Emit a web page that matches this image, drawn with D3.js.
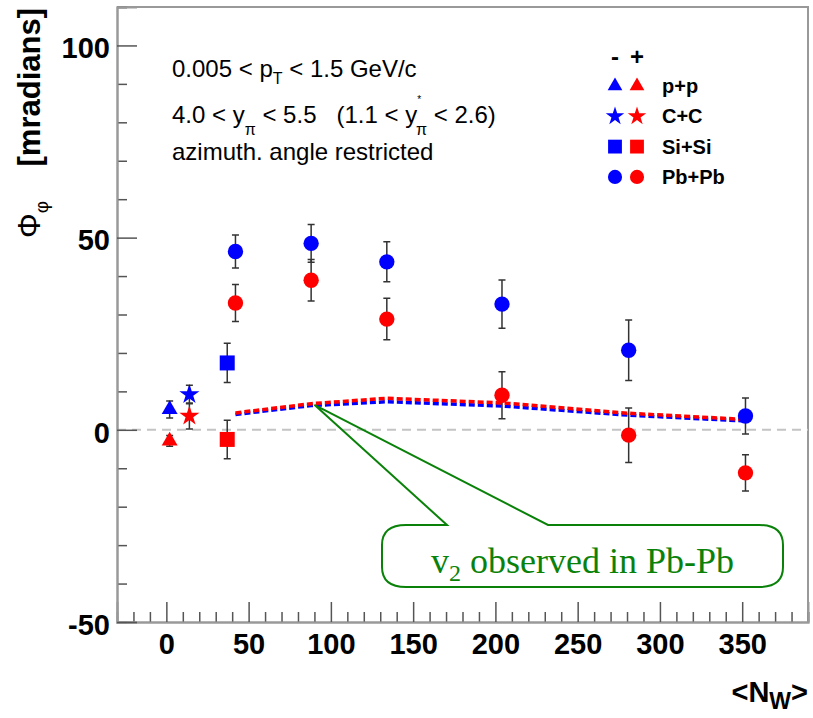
<!DOCTYPE html>
<html>
<head>
<meta charset="utf-8">
<script src="https://cdn.jsdelivr.net/npm/d3@7"></script>
<style>
  body { margin: 0; background: #fff; }
  svg { display: block; font-family: "Liberation Sans", Arial, sans-serif; }
</style>
</head>
<body>
<svg id="plot" width="813" height="718"></svg>
<script>
// systems in the legend
let systems = ["p+p", "C+C", "Si+Si", "Pb+Pb"]

// <N_W> per system
let ppNw = [2]
let ccNw = [14]
let sisiNw = [37]
let pbpbNw = [42, 88, 134, 204, 281, 352]

// Phi_phi for negative (blue) charges, mrad
let ppNeg = [5.3]
let ccNeg = [9.2]
let sisiNeg = [17.4]
let pbpbNeg = [46.4, 48.5, 43.7, 32.7, 20.7, 3.6]
let ppNegErr = [2.2]
let ccNegErr = [2.4]
let sisiNegErr = [5.1]
let pbpbNegErr = [4.3, 4.9, 5.2, 6.3, 7.9, 4.7]

// Phi_phi for positive (red) charges
let ppPos = [-2.9]
let ccPos = [3.6]
let sisiPos = [-2.5]
let pbpbPos = [33.0, 38.9, 28.8, 9.0, -1.4, -11.2]
let ppPosErr = [1.4]
let ccPosErr = [3.4]
let sisiPosErr = [5.0]
let pbpbPosErr = [4.8, 5.4, 5.4, 6.1, 7.1, 4.7]

// v2 contribution observed in Pb+Pb
let v2Neg = [4.0, 6.3, 7.3, 6.2, 3.8, 2.3]
let v2Pos = [4.4, 6.8, 8.2, 7.0, 4.3, 2.7]

let xMajor = [0, 50, 100, 150, 200, 250, 300, 350]
let yMajor = [-50, 0, 50, 100]

let axis = d3.select("#plot")

let xScale = d3.scaleLinear().domain([-30, 390]).range([117, 808])
let yScale = d3.scaleLinear().domain([-50, 110]).range([622, 7])

let blue = "#0000ff", red = "#ff0000"

// frame
axis.append("path")
  .attr("d", `M${xScale(-30)},${yScale(110)}H${xScale(390)}V${yScale(-50)}`)
  .attr("fill", "none").attr("stroke", "#999").attr("stroke-width", 2)

// zero line
axis.append("line")
  .attr("x1", xScale(-30)).attr("x2", xScale(390))
  .attr("y1", yScale(0)).attr("y2", yScale(0))
  .attr("stroke", "#c4c4c4").attr("stroke-width", 2).attr("stroke-dasharray", "9,6")

// x axis
let xMinor = d3.range(-20, 391, 10).filter(d => d % 50 != 0)
axis.append("g").attr("class", "axis")
  .attr("transform", `translate(0,${yScale(-50)})`)
  .call(d3.axisBottom(xScale).tickValues(xMinor).tickSize(-10).tickFormat(""))
axis.append("g").attr("class", "axis")
  .attr("transform", `translate(0,${yScale(-50)})`)
  .call(d3.axisBottom(xScale).tickValues(xMajor).tickSize(-20).tickPadding(11).tickFormat(d => String(d)))

// y axis
let yMinor = d3.range(-40, 111, 10).filter(d => d % 50 != 0)
axis.append("g").attr("class", "axis")
  .attr("transform", `translate(${xScale(-30)},0)`)
  .call(d3.axisLeft(yScale).tickValues(yMinor).tickSize(-10).tickFormat(""))
axis.append("g").attr("class", "axis")
  .attr("transform", `translate(${xScale(-30)},0)`)
  .call(d3.axisLeft(yScale).tickValues(yMajor).tickSize(-20).tickPadding(7).tickFormat(d => String(d)))

axis.selectAll(".axis .domain").attr("stroke", "#999").attr("stroke-width", 2)
axis.selectAll(".axis .tick line").attr("stroke", "#555").attr("stroke-width", 1.5)
axis.selectAll(".axis text")
  .attr("font-family", "Liberation Sans, Arial, sans-serif")
  .attr("font-size", 29).attr("font-weight", "bold").attr("fill", "#000")
axis.selectAll(".axis text").filter(function () { return this.getAttribute("dy") == "0.32em" })
  .attr("dy", "0.42em")

// axis titles
let yTitle = axis.append("text")
  .attr("transform", `translate(40,${yScale(110) + 1}) rotate(-90)`)
  .attr("text-anchor", "end").attr("font-weight", "bold").attr("font-size", 31)
yTitle.append("tspan").attr("font-weight", "normal").text("Φ")
yTitle.append("tspan").attr("font-weight", "normal").attr("font-size", 19).attr("dy", 8).text("φ")
yTitle.append("tspan").attr("dy", -8).text("\u00a0\u00a0\u00a0\u00a0[mradians]")

let xTitle = axis.append("text")
  .attr("x", 808).attr("y", 702)
  .attr("text-anchor", "end").attr("font-weight", "bold").attr("font-size", 29)
xTitle.append("tspan").text("<N")
xTitle.append("tspan").attr("font-size", 23).attr("dy", 7).text("W")
xTitle.append("tspan").attr("dy", -7).text(">")

// cut description
let info = axis.append("g").attr("font-size", 24).attr("fill", "#000")
let l1 = info.append("text").attr("x", 172).attr("y", 77)
l1.append("tspan").text("0.005 < p")
l1.append("tspan").attr("font-size", 16).attr("dy", 7).text("T")
l1.append("tspan").attr("dy", -7).text(" < 1.5 GeV/c")
let l2 = info.append("text").attr("x", 172).attr("y", 123)
l2.append("tspan").text("4.0 < y")
l2.append("tspan").attr("font-size", 16).attr("dy", 12).text("π")
l2.append("tspan").attr("dy", -12).text(" < 5.5\u00a0\u00a0\u00a0(1.1 < y")
l2.append("tspan").attr("font-size", 10).attr("dy", -20).text("*")
l2.append("tspan").attr("font-size", 16).attr("dx", -5).attr("dy", 32).text("π")
l2.append("tspan").attr("dy", -12).text(" < 2.6)")
info.append("text").attr("x", 172).attr("y", 160).text("azimuth. angle restricted")

// markers
let symbols = [d3.symbolTriangle, d3.symbolStar, d3.symbolSquare, d3.symbolCircle]
let symSize = [110, 125, 225, 185]

let series = [
  { nw: ppNw, neg: ppNeg, negErr: ppNegErr, pos: ppPos, posErr: ppPosErr },
  { nw: ccNw, neg: ccNeg, negErr: ccNegErr, pos: ccPos, posErr: ccPosErr },
  { nw: sisiNw, neg: sisiNeg, negErr: sisiNegErr, pos: sisiPos, posErr: sisiPosErr },
  { nw: pbpbNw, neg: pbpbNeg, negErr: pbpbNegErr, pos: pbpbPos, posErr: pbpbPosErr }
]

function draw_points(X, Y, E, color, sym, size) {
  let g = axis.append("g")
  X.forEach(function (d, i) {
    let cx = xScale(d), y1 = yScale(Y[i] + E[i]), y2 = yScale(Y[i] - E[i])
    g.append("path")
      .attr("d", `M${cx},${y1}V${y2}M${cx - 3.5},${y1}H${cx + 3.5}M${cx - 3.5},${y2}H${cx + 3.5}`)
      .attr("stroke", "#333").attr("stroke-width", 1.5).attr("fill", "none")
  })
  g.selectAll(".markers")
    .data(X)
    .enter()
    .append("path")
    .attr("transform", (d, i) => `translate(${xScale(d)},${yScale(Y[i])})`)
    .attr("d", d3.symbol(sym, size))
    .attr("fill", color)
}

// v2 lines
let v2Line = (Y) => d3.line().x((d, i) => xScale(pbpbNw[i])).y(d => yScale(d))(Y)
axis.append("path").attr("d", v2Line(v2Neg))
  .attr("fill", "none").attr("stroke", blue).attr("stroke-width", 3.5).attr("stroke-dasharray", "6,3")
axis.append("path").attr("d", v2Line(v2Pos))
  .attr("fill", "none").attr("stroke", red).attr("stroke-width", 3.5).attr("stroke-dasharray", "6,3")

series.forEach(function (s, k) {
  draw_points(s.nw, s.pos, s.posErr, red, symbols[k], symSize[k])
  draw_points(s.nw, s.neg, s.negErr, blue, symbols[k], symSize[k])
})

// legend
let legend = axis.append("g")
legend.append("text").attr("x", 615).attr("y", 65).attr("text-anchor", "middle")
  .attr("font-weight", "bold").attr("font-size", 24).text("-")
legend.append("text").attr("x", 637).attr("y", 65).attr("text-anchor", "middle")
  .attr("font-weight", "bold").attr("font-size", 24).text("+")
systems.forEach(function (d, i) {
  let ly = 86 + i * 30.3
  let lg = legend.append("g").attr("transform", `translate(0,${ly})`)
  lg.append("path").attr("transform", "translate(615,0)")
    .attr("d", d3.symbol(symbols[i], symSize[i] * 0.85)).attr("fill", blue)
  lg.append("path").attr("transform", "translate(637,0)")
    .attr("d", d3.symbol(symbols[i], symSize[i] * 0.85)).attr("fill", red)
  lg.append("text").attr("x", 662).attr("y", 7)
    .attr("font-weight", "bold").attr("font-size", 20).text(d)
})

// callout
let green = "#0a820a"
let tipX = xScale(90), tipY = yScale(6.5)
let L = 382, R = 783, T = 525, B = 587, rx = 24, ry = 20
let p = d3.path()
p.moveTo(447, T)
p.lineTo(tipX, tipY)
p.lineTo(548, T)
p.lineTo(R - rx, T)
p.quadraticCurveTo(R, T, R, T + ry)
p.lineTo(R, B - ry)
p.quadraticCurveTo(R, B, R - rx, B)
p.lineTo(L + rx, B)
p.quadraticCurveTo(L, B, L, B - ry)
p.lineTo(L, T + ry)
p.quadraticCurveTo(L, T, L + rx, T)
p.closePath()
axis.append("path").attr("d", p.toString())
  .attr("fill", "none").attr("stroke", green).attr("stroke-width", 2)

let note = axis.append("text")
  .attr("x", (L + R) / 2).attr("y", 573).attr("text-anchor", "middle")
  .attr("font-family", "Liberation Serif, Times New Roman, serif")
  .attr("font-size", 36).attr("fill", green)
note.append("tspan").text("v")
note.append("tspan").attr("font-size", 24).attr("dy", 8).text("2")
note.append("tspan").attr("dy", -8).text(" observed in Pb-Pb")
</script>
</body>
</html>
